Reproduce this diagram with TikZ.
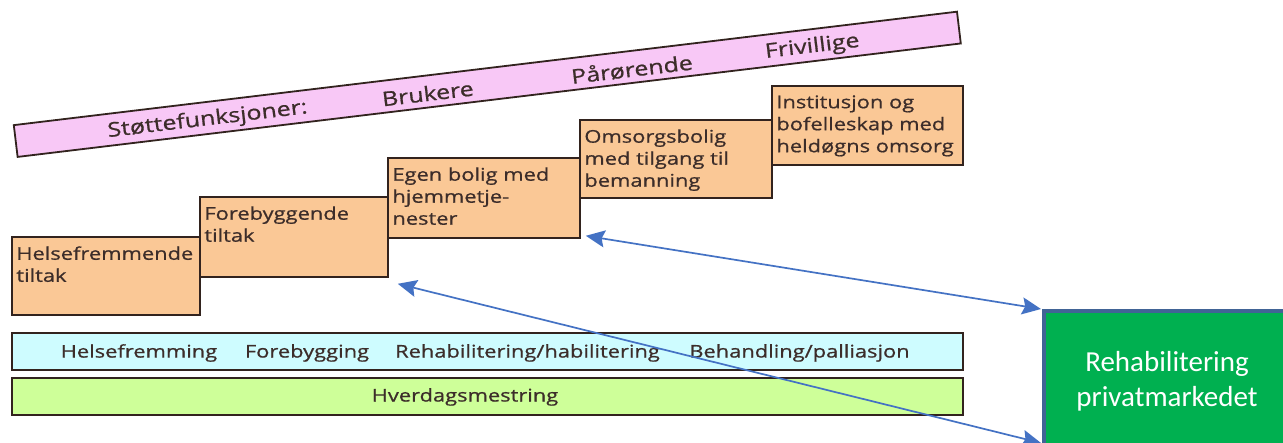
\documentclass[tikz,border=0pt]{standalone}
\usepackage{fontspec}
\usetikzlibrary{arrows.meta,calc}
\newfontfamily\boxfont[FakeStretch=1.25,FakeBold=0.8]{Open Sans}
\newfontfamily\calfont{Carlito}
\definecolor{pinkfill}{RGB}{248,200,246}
\definecolor{peach}{RGB}{250,200,150}
\definecolor{cyanfill}{RGB}{206,252,255}
\definecolor{limefill}{RGB}{206,255,153}
\definecolor{darkline}{RGB}{50,35,30}
\definecolor{txtcol}{RGB}{60,45,42}
\definecolor{gbox}{RGB}{0,176,80}
\definecolor{gborder}{RGB}{65,100,150}
\definecolor{arrblue}{RGB}{68,114,196}
\tikzset{
  stepbox/.style={draw=darkline, fill=peach, line width=1.6pt, inner sep=0pt},
  steptxt/.style={anchor=north west, align=left, inner sep=0pt, text=txtcol,
    font=\boxfont\fontsize{17.5}{22}\selectfont},
  barbox/.style={draw=darkline, line width=1.6pt, inner sep=0pt,
    minimum width=951pt, minimum height=37pt},
  bartxt/.style={inner sep=0pt, text=txtcol, font=\boxfont\fontsize{17.5}{21}\selectfont},
  bandtxt/.style={inner sep=0pt, text=txtcol, rotate=6.86,
    font=\boxfont\fontsize{20}{22}\selectfont},
  arr/.style={draw=arrblue, line width=1.7pt,
    {Stealth[length=19pt,width=17pt,inset=3pt]}-{Stealth[length=19pt,width=17pt,inset=3pt]}}
}
\begin{document}
\begin{tikzpicture}[x=1pt,y=-1pt]
\useasboundingbox (0,0) rectangle (1283,443);
\clip (0,0) rectangle (1283,443);
\fill[white] (0,0) rectangle (1283,443);
% pink band
\node[draw=darkline, fill=pinkfill, line width=1.8pt, rotate=6.86,
  minimum width=950pt, minimum height=32pt, inner sep=0pt] (band) at (487.3,84.3) {};
\node[bandtxt] (s0) at ([yshift=-2pt]$(band.west)!0.204!(band.east)$) {Støttefunksjoner:};
\node[bandtxt] (s1) at ([yshift=-2pt]$(band.west)!0.437!(band.east)$) {Brukere};
\node[bandtxt] (s2) at ([yshift=-2pt]$(band.west)!0.653!(band.east)$) {Pårørende};
\node[bandtxt] (s3) at ([yshift=-2pt]$(band.west)!0.844!(band.east)$) {Frivillige};
% steps
\node[stepbox, minimum width=188pt, minimum height=78pt] (b1) at (106,276) {};
\node[stepbox, minimum width=188pt, minimum height=80pt] (b2) at (294,237) {};
\node[stepbox, minimum width=192pt, minimum height=80pt] (b3) at (484,198) {};
\node[stepbox, minimum width=192pt, minimum height=78pt] (b4) at (676,159) {};
\node[stepbox, minimum width=191pt, minimum height=79pt] (b5) at (867.5,125.5) {};
\node[steptxt] (t1) at ([xshift=5pt,yshift=-10pt]b1.north west) {Helsefremmende\\tiltak};
\node[steptxt] (t2) at ([xshift=5pt,yshift=-10pt]b2.north west) {Forebyggende\\tiltak};
\node[steptxt] (t3) at ([xshift=5pt,yshift=-10pt]b3.north west) {Egen bolig med\\hjemmetje-\\nester};
\node[steptxt] (t4) at ([xshift=5pt,yshift=-10pt]b4.north west) {Omsorgsbolig\\med tilgang til\\bemanning};
\node[steptxt] (t5) at ([xshift=5pt,yshift=-10pt]b5.north west) {Institusjon og\\bofelleskap med\\heldøgns omsorg};
% bars
\node[barbox, fill=cyanfill] (bar1) at (487.5,351.5) {};
\node[barbox, fill=limefill] (bar2) at (487.5,396.5) {};
\node[bartxt] (w1) at (139,353) {Helsefremming};
\node[bartxt] (w2) at (307,353) {Forebygging};
\node[bartxt] (w3) at (527.5,353) {Rehabilitering/habilitering};
\node[bartxt] (w4) at (799.5,353) {Behandling/palliasjon};
\node[bartxt] (w5) at (465,397) {Hverdagsmestring};
% green box
\node[draw=gborder, fill=gbox, line width=4pt, minimum width=246pt, minimum height=140pt,
  inner sep=0pt, align=center, text=white, font=\calfont\fontsize{29}{35}\selectfont]
  (green) at (1167,381) {Rehabilitering\\privatmarkedet};
% arrows
\draw[arr] ([xshift=5pt,yshift=3pt]b3.south east) -- ([xshift=-1pt]green.north west);
\draw[arr] ([xshift=9pt,yshift=-6pt]b2.south east) -- ([xshift=-1pt,yshift=10pt]green.south west);
\end{tikzpicture}
\end{document}
